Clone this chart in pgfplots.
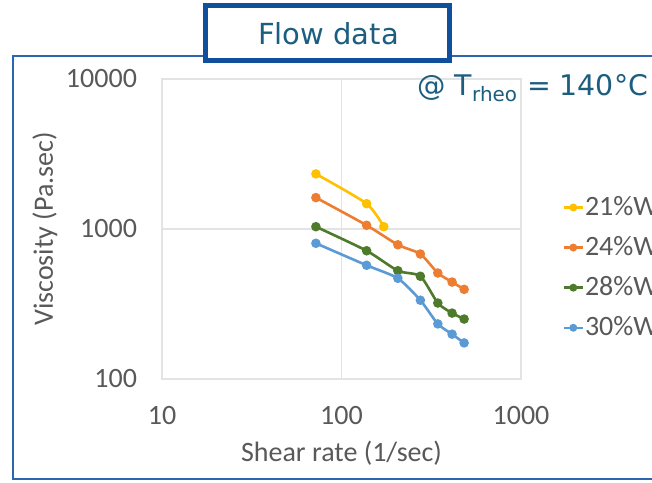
\documentclass[border=0pt]{standalone}
\usepackage{fontspec}
\setmainfont{Carlito}
\newfontfamily\verd{DejaVu Sans}
\usepackage{pgfplots}
\pgfplotsset{compat=1.18}
\definecolor{cy}{HTML}{FFC000}
\definecolor{co}{HTML}{ED7D31}
\definecolor{cg}{HTML}{4E7A2C}
\definecolor{cb}{HTML}{5B9BD5}
\definecolor{txt}{HTML}{595959}
\definecolor{ttl}{HTML}{1C5E80}
\definecolor{boxc}{HTML}{0F4F9C}
\definecolor{frm}{HTML}{2A67AE}
\definecolor{grd}{HTML}{E3E3E3}
\begin{document}
\begin{tikzpicture}[x=0.5pt,y=0.5pt]
\useasboundingbox (0,0) rectangle (652,482);
\clip (0,0) rectangle (652,482);
\fill[white] (0,0) rectangle (652,482);
\draw[frm, line width=1pt] (13,3) rectangle (720,426);
\begin{axis}[
  at={(81pt,51.5pt)}, anchor=south west,
  scale only axis, width=179.5pt, height=150pt,
  xmode=log, ymode=log,
  xmin=10, xmax=1000, ymin=100, ymax=10000,
  xtick={10,100,1000}, xticklabels={10,100,1000},
  ytick={100,1000,10000}, yticklabels={100,1000,10000},
  minor xtick={}, minor ytick={}, tick style={draw=none},
  grid=major, major grid style={grd, line width=0.6pt},
  axis line style={grd, line width=0.6pt},
  tick label style={font=\fontsize{14}{16}\selectfont, text=txt},
  yticklabel style={xshift=-9pt},
  xticklabel style={yshift=-10pt},
  xlabel={Shear rate (1/sec)}, ylabel={Viscosity (Pa.sec)},
  label style={font=\fontsize{14}{16}\selectfont, text=txt},
  xlabel style={at={(axis description cs:0.5,-0.247)}, anchor=center},
  ylabel style={at={(axis description cs:-0.326,0.5)}, anchor=center},
  clip=false,
  legend cell align=left,
  legend style={at={(axis description cs:1.098,0.63)}, anchor=north west,
    draw=none, fill=none, font=\fontsize{14}{16}\selectfont, text=txt,
    row sep=7pt, column sep=0pt, nodes={inner xsep=0.5pt, inner ysep=1pt}},
  legend image code/.code={
    \draw[#1, line width=1.2pt, mark=none] (0pt,0pt) -- (9.5pt,0pt);
    \draw[#1, mark size=1.3pt, only marks] plot coordinates {(4.75pt,0pt)};},
  every axis plot/.append style={line width=1.3pt, mark=*, mark size=1.7pt, smooth, tension=0.4},
]
\addplot[cy, mark options={fill=cy, draw=cy}] coordinates {
(72,2330) (138,1475) (172,1036)};
\addlegendentry{21\%Wt}
\addplot[co, mark options={fill=co, draw=co}] coordinates {
(72,1619) (138,1059) (206,785) (275,681) (344,509) (413,443) (482,396)};
\addlegendentry{24\%Wt}
\addplot[cg, mark options={fill=cg, draw=cg}] coordinates {
(72,1036) (138,716) (206,527) (275,484) (344,321) (413,275) (482,251)};
\addlegendentry{28\%Wt}
\addplot[cb, mark options={fill=cb, draw=cb}] coordinates {
(72,803) (138,573) (206,469) (275,335) (344,233) (413,199) (482,174)};
\addlegendentry{30\%Wt}
\end{axis}
\draw[boxc, line width=2.5pt, fill=white] (205.5,421.5) rectangle (449.5,476.5);
\node[anchor=base, text=ttl, font=\verd\fontsize{14.5}{16}\selectfont, inner sep=0pt] at (328.5,437) {Flow data};
\node[anchor=base west, text=ttl, font=\verd\fontsize{14.2}{16}\selectfont, inner sep=0pt] at (417,386) {@ T\textsubscript{rheo} = 140°C};
\end{tikzpicture}
\end{document}
